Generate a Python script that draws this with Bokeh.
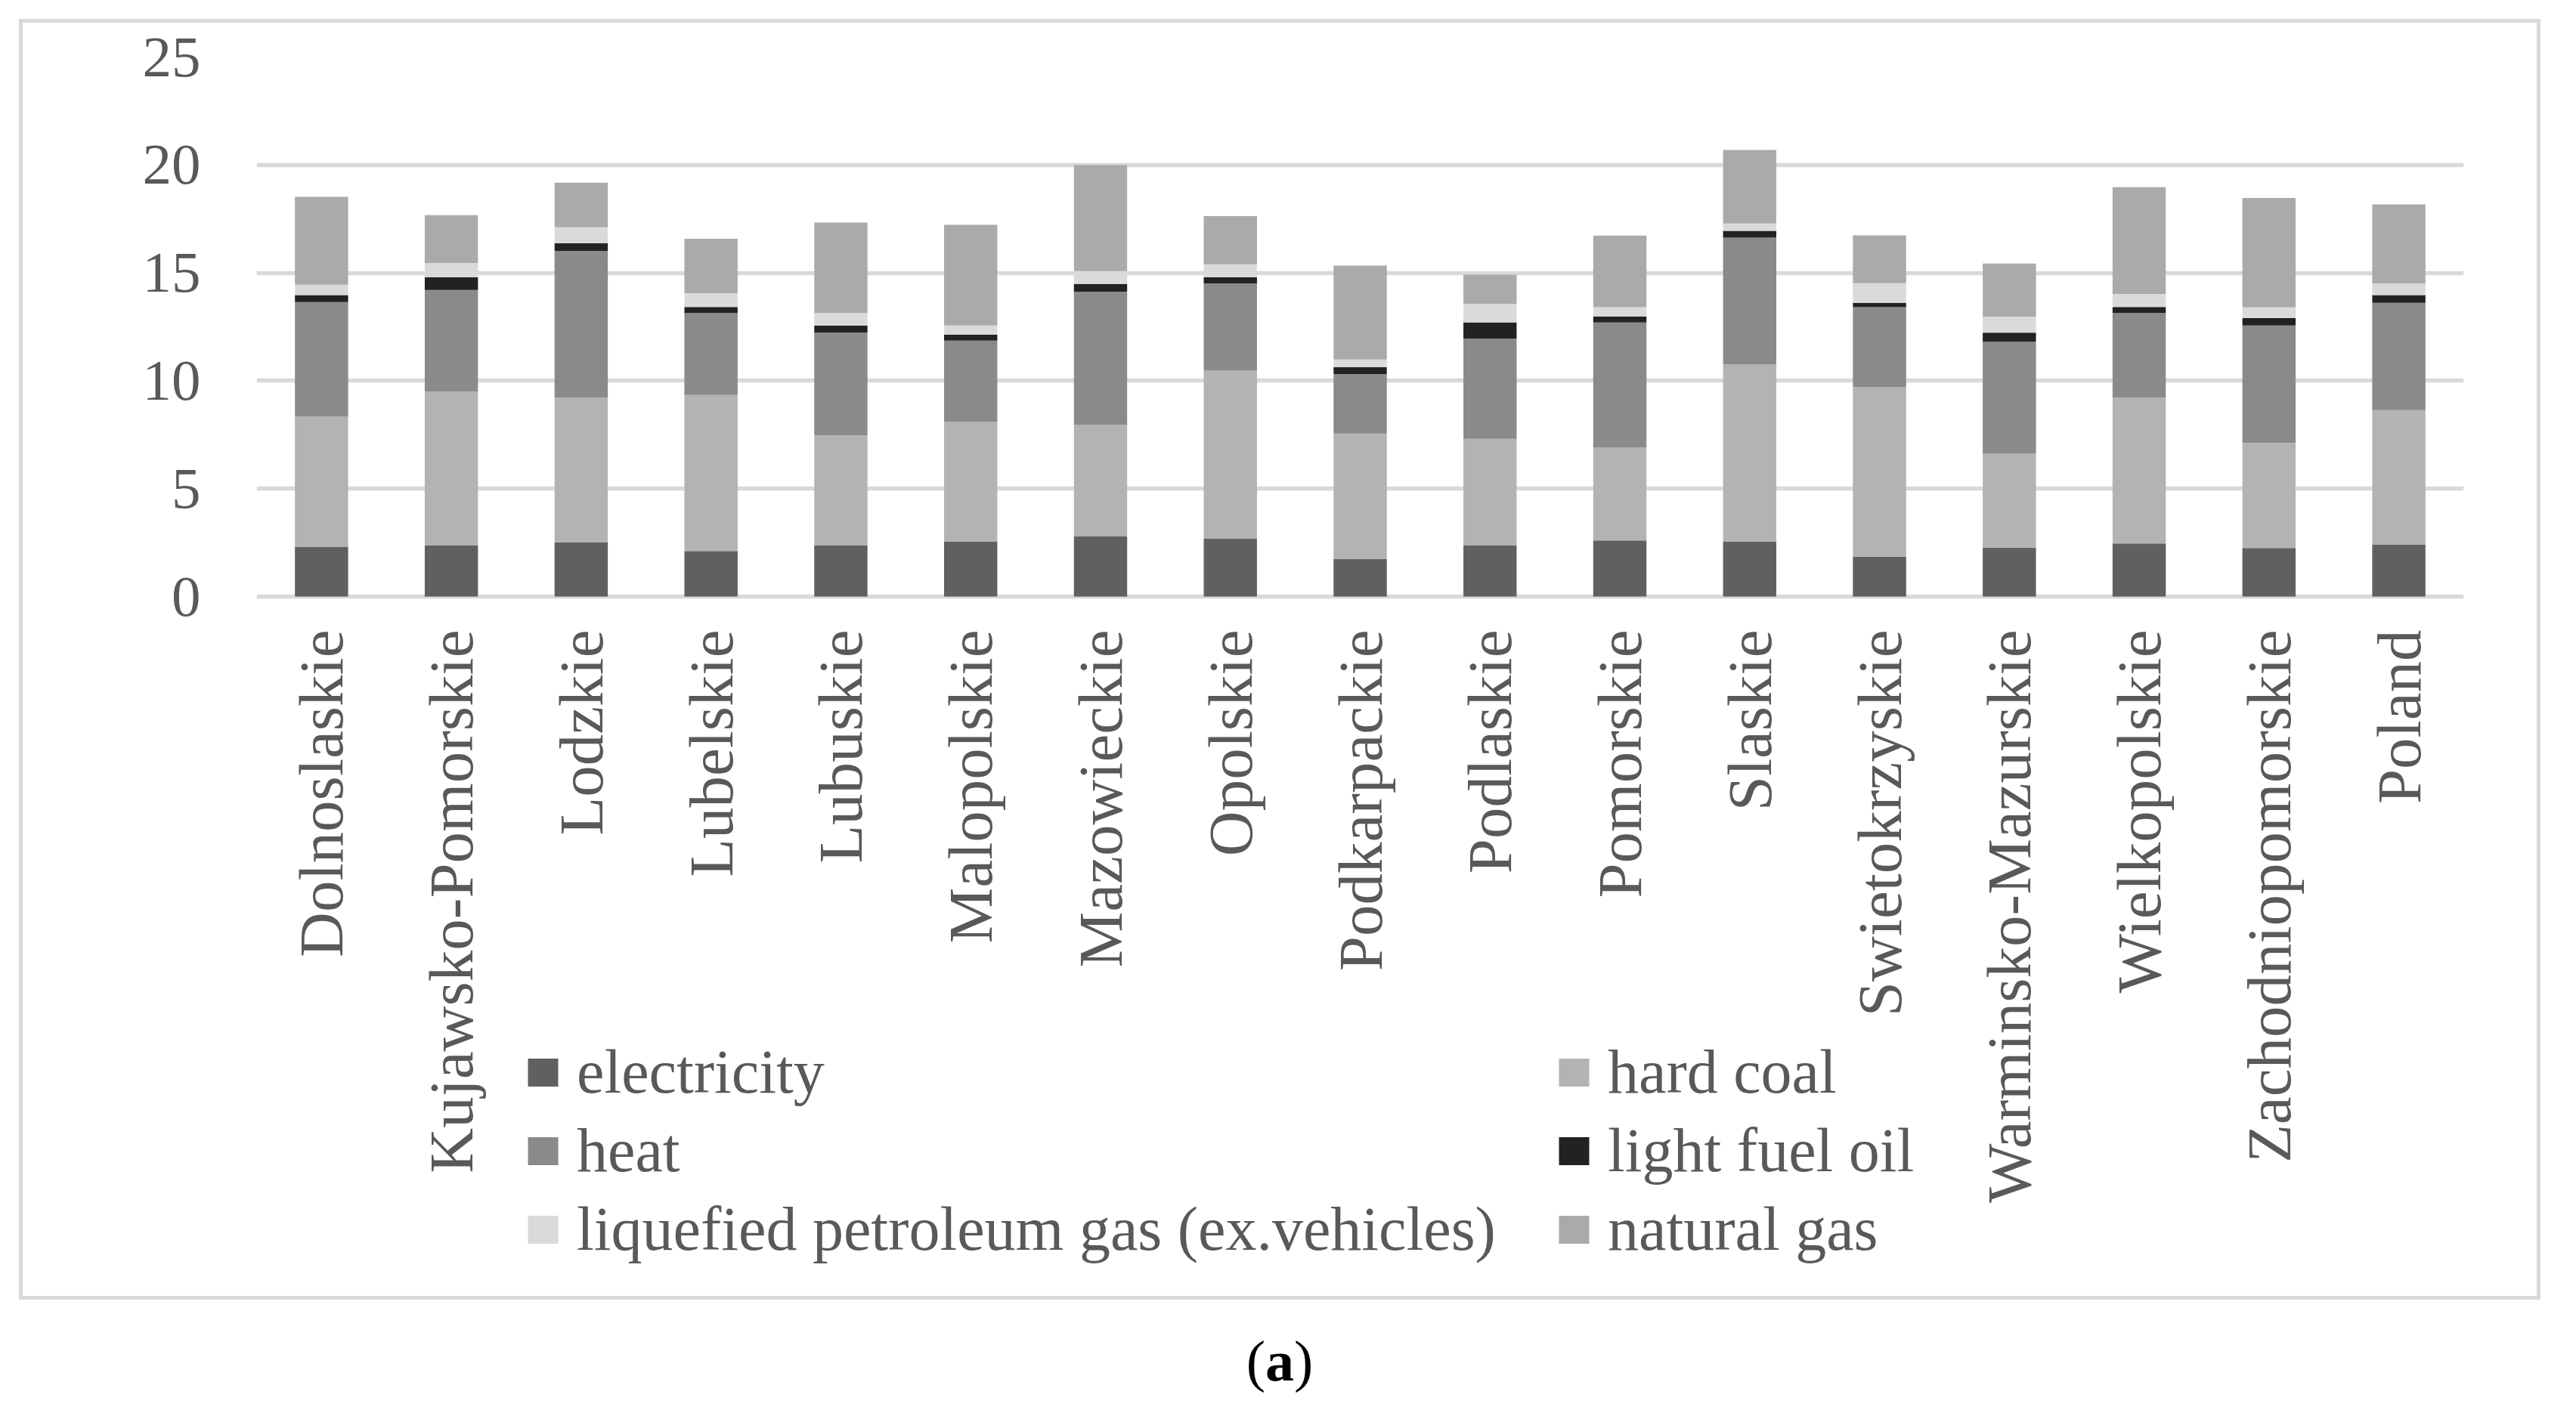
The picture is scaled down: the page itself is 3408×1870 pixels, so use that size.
import math
from bokeh.plotting import figure
from bokeh.models import Legend, LegendItem, Div, Range1d, ColumnDataSource
from bokeh.layouts import column
from bokeh.embed import file_html
from bokeh.resources import INLINE
from bokeh.core.properties import value

regions = ["Dolnoslaskie", "Kujawsko-Pomorskie", "Lodzkie", "Lubelskie", "Lubuskie",
           "Malopolskie", "Mazowieckie", "Opolskie", "Podkarpackie", "Podlaskie",
           "Pomorskie", "Slaskie", "Swietokrzyskie", "Warminsko-Mazurskie",
           "Wielkopolskie", "Zachodniopomorskie", "Poland"]

electricity = [2.31, 2.36, 2.50, 2.11, 2.36, 2.56, 2.78, 2.68, 1.75, 2.36, 2.60, 2.54, 1.85, 2.27, 2.46, 2.25, 2.42]
hard_coal = [6.04, 7.14, 6.72, 7.23, 5.11, 5.55, 5.19, 7.81, 5.80, 4.95, 4.30, 8.23, 7.87, 4.35, 6.76, 4.87, 6.22]
heat = [5.30, 4.71, 6.80, 3.80, 4.77, 3.75, 6.16, 4.02, 2.76, 4.65, 5.80, 5.86, 3.69, 5.19, 3.92, 5.44, 4.97]
light_fuel_oil = [0.32, 0.58, 0.36, 0.28, 0.32, 0.28, 0.36, 0.28, 0.32, 0.74, 0.28, 0.32, 0.20, 0.42, 0.28, 0.34, 0.36]
lpg = [0.48, 0.67, 0.73, 0.64, 0.58, 0.42, 0.59, 0.61, 0.36, 0.87, 0.43, 0.34, 0.91, 0.74, 0.60, 0.50, 0.54]
natural_gas = [4.07, 2.21, 2.07, 2.52, 4.19, 4.67, 4.91, 2.23, 4.35, 1.35, 3.32, 3.40, 2.22, 2.46, 4.95, 5.07, 3.66]

series_labels = ["electricity", "hard coal", "heat", "light fuel oil",
                 "liquefied petroleum gas (ex.vehicles)", "natural gas"]
series_keys = ["electricity", "hard_coal", "heat", "light_fuel_oil", "lpg", "natural_gas"]
colors = ["#606060", "#b3b3b3", "#8a8a8a", "#222222", "#dadada", "#aaaaaa"]
y_ticks = [0, 5, 10, 15, 20, 25]

src = ColumnDataSource(dict(region=regions, electricity=electricity, hard_coal=hard_coal,
                            heat=heat, light_fuel_oil=light_fuel_oil, lpg=lpg,
                            natural_gas=natural_gas))

FONT = "Liberation Serif"
TXT = "#595959"

# layout geometry (pixels)
W, H = 3336, 1695
frame_top, zero_px, frame_bottom = 45, 759, 1667   # relative to figure top
px_per_unit = (zero_px - frame_top) / 25.0
y_start = -(frame_bottom - zero_px) / px_per_unit

p = figure(x_range=regions, y_range=Range1d(y_start, 25), width=W, height=H,
           output_backend="svg", toolbar_location=None, x_axis_location=None,
           min_border_left=309, min_border_right=107, min_border_top=frame_top,
           min_border_bottom=H - frame_bottom,
           margin=(25, 0, 0, 25),
           styles={"border": "5px solid #d9d9d9"})
p.outline_line_color = None
p.background_fill_color = "white"
p.border_fill_color = "white"

rs = p.vbar_stack(series_keys, x="region", width=0.41, color=colors, line_color=None, source=src)

p.ygrid.grid_line_color = "#d9d9d9"
p.ygrid.grid_line_width = 5.5
p.xgrid.grid_line_color = None

p.yaxis.ticker = y_ticks
p.yaxis.axis_line_color = None
p.yaxis.major_tick_line_color = None
p.yaxis.minor_tick_line_color = None
p.yaxis.major_label_standoff = 68
p.yaxis.major_label_text_font = FONT
p.yaxis.major_label_text_font_size = "77px"
p.yaxis.major_label_text_color = TXT

# category labels (rotated), hanging below the zero line
p.text(x="region", y=0, text="region", source=src, angle=math.pi / 2,
       text_align="right", text_baseline="middle", y_offset=44,
       text_font=value(FONT), text_font_size=value("83px"), text_color=TXT)

items = [LegendItem(label=l, renderers=[r]) for l, r in zip(series_labels, rs)]
legend = Legend(items=items, location=(354, 23), orientation="horizontal", ncols=2,
                glyph_width=50, glyph_height=46, label_standoff=20, label_width=1284,
                label_height=92, spacing=10, padding=0, margin=0,
                border_line_color=None, background_fill_alpha=0,
                label_text_font=FONT, label_text_font_size="82px", label_text_color=TXT)
p.add_layout(legend, "center")

cap = Div(text="(<b>a</b>)", width=W, margin=(27, 0, 0, 25),
          styles={"text-align": "center", "font-family": FONT, "font-size": "76px",
                  "color": "black", "width": "%dpx" % W})

layout = column(p, cap)
open("out.html", "w").write(file_html(layout, INLINE))
